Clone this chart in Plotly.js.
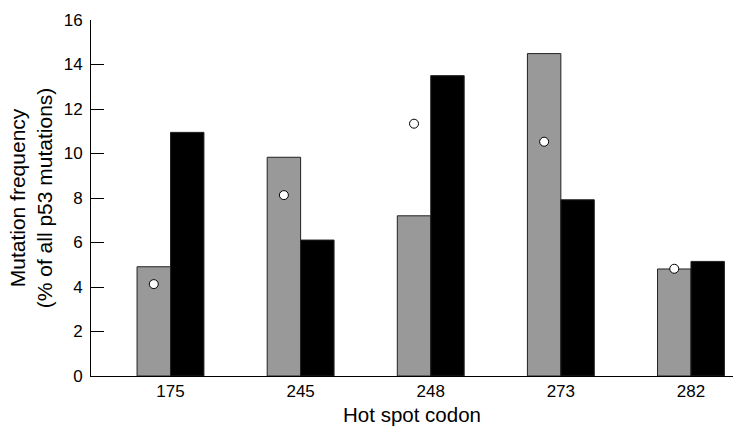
<!DOCTYPE html>
<html>
<head>
<meta charset="utf-8">
<script src="https://cdn.plot.ly/plotly-3.0.1.min.js"></script>
<style>html,body{margin:0;padding:0;background:#fff;}#chart{width:734px;height:427px;}</style>
</head>
<body>
<div id="chart"></div>
<script>
const codons = ['175', '245', '248', '273', '282'];
const grayValues = [4.91, 9.83, 7.2, 14.49, 4.81];
const blackValues = [10.95, 6.11, 13.5, 7.92, 5.15];
const circleValues = [4.13, 8.13, 11.34, 10.53, 4.82];

const font = 'Liberation Sans, Arial, sans-serif';

const traces = [
  {
    type: 'bar', x: codons, y: grayValues, offsetgroup: 'g', alignmentgroup: 'a',
    marker: {color: '#999999', line: {color: '#222222', width: 1}},
    hoverinfo: 'skip'
  },
  {
    type: 'bar', x: codons, y: blackValues, offsetgroup: 'b', alignmentgroup: 'a',
    marker: {color: '#000000', line: {color: '#222222', width: 1}},
    hoverinfo: 'skip'
  },
  {
    type: 'scatter', mode: 'markers', x: codons, y: circleValues, offsetgroup: 'g', alignmentgroup: 'a',
    marker: {symbol: 'circle', size: 9, color: '#ffffff', line: {color: '#000000', width: 1}},
    hoverinfo: 'skip', cliponaxis: false
  }
];

const layout = {
  width: 734, height: 427,
  margin: {l: 91, r: 1, t: 20, b: 51},
  showlegend: false,
  paper_bgcolor: '#ffffff', plot_bgcolor: '#ffffff',
  barmode: 'group', bargap: 0.486, bargroupgap: 0,
  scattermode: 'group', scattergap: 0.486,
  font: {family: font, color: '#000000', size: 17},
  xaxis: {
    type: 'category', range: [-0.611, 4.323],
    showline: true, linecolor: '#000000', linewidth: 1,
    ticks: '', showgrid: false, zeroline: false,
    tickfont: {family: font, size: 17},
    title: {text: 'Hot spot codon', font: {family: font, size: 20.5}, standoff: 7}
  },
  yaxis: {
    range: [0, 16], dtick: 2, tick0: 0,
    showline: true, linecolor: '#000000', linewidth: 1,
    ticks: 'inside', ticklen: 13, tickcolor: '#000000', tickwidth: 1,
    showgrid: false, zeroline: false,
    tickfont: {family: font, size: 17},
    ticklabelstandoff: 4,
    title: {text: 'Mutation frequency<br>(% of all p53 mutations)', font: {family: font, size: 21}, standoff: 5}
  }
};

Plotly.newPlot('chart', traces, layout, {displayModeBar: false, staticPlot: true});
</script>
</body>
</html>
